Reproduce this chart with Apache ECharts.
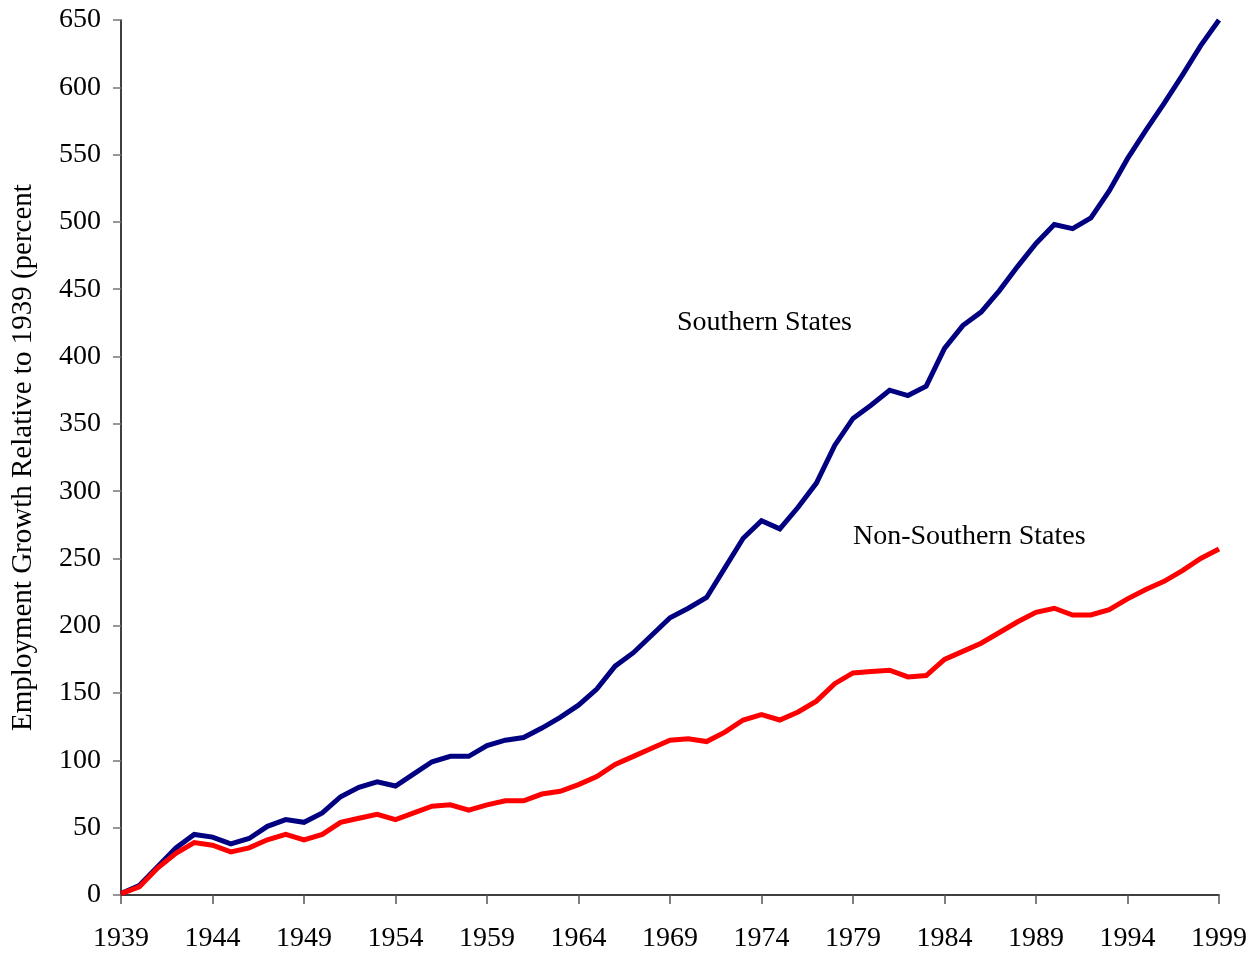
<!DOCTYPE html>
<html>
<head>
<meta charset="utf-8">
<script src="https://cdn.jsdelivr.net/npm/echarts@6/dist/echarts.min.js"></script>
<style>
  html, body { margin: 0; padding: 0; background: #fff; }
  #chart { width: 1260px; height: 960px; }
</style>
</head>
<body>
<div id="chart"></div>
<script>
const years = [
  1939, 1940, 1941, 1942, 1943, 1944, 1945, 1946, 1947, 1948,
  1949, 1950, 1951, 1952, 1953, 1954, 1955, 1956, 1957, 1958,
  1959, 1960, 1961, 1962, 1963, 1964, 1965, 1966, 1967, 1968,
  1969, 1970, 1971, 1972, 1973, 1974, 1975, 1976, 1977, 1978,
  1979, 1980, 1981, 1982, 1983, 1984, 1985, 1986, 1987, 1988,
  1989, 1990, 1991, 1992, 1993, 1994, 1995, 1996, 1997, 1998,
  1999
];

// employment growth relative to 1939, percent
const southern = [
  1, 7, 21, 35, 45, 43, 38, 42, 51, 56,
  54, 61, 73, 80, 84, 81, 90, 99, 103, 103,
  111, 115, 117, 124, 132, 141, 153, 170, 180, 193,
  206, 213, 221, 243, 265, 278, 272, 288, 306, 334,
  354, 364, 375, 371, 378, 406, 423, 433, 449, 467,
  484, 498, 495, 503, 523, 547, 568, 588, 609, 631,
  650
];

const nonSouthern = [
  1, 6, 20, 31, 39, 37, 32, 35, 41, 45,
  41, 45, 54, 57, 60, 56, 61, 66, 67, 63,
  67, 70, 70, 75, 77, 82, 88, 97, 103, 109,
  115, 116, 114, 121, 130, 134, 130, 136, 144, 157,
  165, 166, 167, 162, 163, 175, 181, 187, 195, 203,
  210, 213, 208, 208, 212, 220, 227, 233, 241, 250,
  257
];

const yTitle = 'Employment Growth Relative to 1939 (percent';
const font = '"Liberation Serif", "Times New Roman", serif';

const chart = echarts.init(document.getElementById('chart'));

chart.setOption({
  animation: false,
  backgroundColor: '#fff',
  textStyle: { fontFamily: font },
  grid: { left: 121, right: 41, top: 20, bottom: 65 },
  xAxis: {
    type: 'category',
    data: years,
    boundaryGap: false,
    axisLine: { lineStyle: { color: '#000', width: 1.5 } },
    axisTick: { interval: 4, length: 9, lineStyle: { color: '#555', width: 1.5 } },
    axisLabel: { interval: 4, margin: 30, color: '#000', fontSize: 28, fontFamily: font },
    splitLine: { show: false }
  },
  yAxis: {
    type: 'value',
    min: 0,
    max: 650,
    interval: 50,
    name: yTitle,
    nameLocation: 'middle',
    nameGap: 83,
    nameTextStyle: { color: '#000', fontSize: 29, fontFamily: font },
    axisLine: { show: true, lineStyle: { color: '#000', width: 1.5 } },
    axisTick: { show: true, length: 8, lineStyle: { color: '#777', width: 1.5 } },
    axisLabel: { margin: 20, color: '#000', fontSize: 28, fontFamily: font },
    splitLine: { show: false }
  },
  series: [
    {
      name: 'Southern States',
      type: 'line',
      data: southern,
      showSymbol: false,
      lineStyle: { color: '#000080', width: 5, join: 'miter' },
      itemStyle: { color: '#000080' }
    },
    {
      name: 'Non-Southern States',
      type: 'line',
      data: nonSouthern,
      showSymbol: false,
      lineStyle: { color: '#ff0000', width: 5, join: 'miter' },
      itemStyle: { color: '#ff0000' }
    }
  ],
  graphic: [
    {
      type: 'text',
      left: 677,
      top: 309,
      style: { text: 'Southern States', fill: '#000', font: '28px ' + font }
    },
    {
      type: 'text',
      left: 853,
      top: 523,
      style: { text: 'Non-Southern States', fill: '#000', font: '28px ' + font }
    }
  ]
});
</script>
</body>
</html>
